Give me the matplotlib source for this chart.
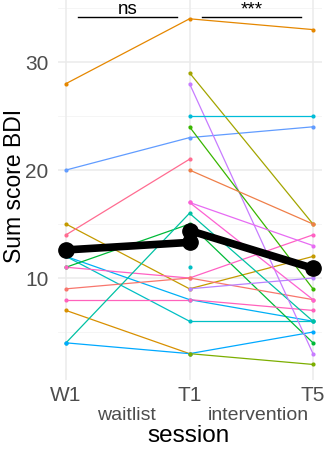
import numpy as np
import matplotlib
matplotlib.use("Agg")
import matplotlib.pyplot as plt

plt.rcParams['font.family'] = ['Liberation Sans', 'DejaVu Sans']

sessions = ["W1", "T1", "T5"]
nan = np.nan

# per-subject BDI sum scores at W1, T1, T5 (NaN = not measured)
subj_w1 = [28, 20, 15, 14, 12, 12, 11, 11, 9, 8, 7, 4, 4,
           nan, nan, nan, nan, nan, nan, nan, nan, nan, nan]
subj_t1 = [34, 23, 9, 21, 8, 6, 15, 10, 10, 8, 3, 16, 3,
           29, 28, 25, 24, 20, 17, 17, 11, 9, 3]
subj_t5 = [33, 24, 12, nan, 6, 6, 4, 14, 8, 7, nan, 6, 5,
           15, 3, 25, 9, 15, 13, 8, nan, 10, 2]
subj_colors = ["#E58700", "#619CFF", "#C49A00", "#FF6C91", "#00B0F6", "#00BFC4",
               "#00BA38", "#FF61C3", "#F8766D", "#FF62BC", "#D89000", "#00C1A3",
               "#00A9FF", "#A3A500", "#C77CFF", "#00BCD8", "#39B600", "#EF7F49",
               "#E76BF3", "#FD61D1", "#00BFC4", "#B983FF", "#7CAE00"]

# group means
mean_waitlist = [12.6, 13.3]      # W1, T1
mean_intervention = [14.4, 10.9]  # T1, T5

sig_labels = ["ns", "***"]

W, H = 327, 449
fig = plt.figure(figsize=(W / 100, H / 100), dpi=100)
ax = fig.add_axes([58 / W, (H - 380) / H, (322 - 58) / W, 380 / H])

xpos = np.arange(1, 4)
grid_c = "#EBEBEB"
for yv in [5, 15, 25, 35]:
    ax.axhline(yv, color="#F4F4F4", lw=0.6, zorder=0)
for yv in [10, 20, 30]:
    ax.axhline(yv, color=grid_c, lw=1.1, zorder=0)
for xv in xpos:
    ax.axvline(xv, color=grid_c, lw=1.1, zorder=0)

for w1, t1, t5, c in zip(subj_w1, subj_t1, subj_t5, subj_colors):
    vals = np.array([w1, t1, t5], dtype=float)
    if not np.isnan(w1) and not np.isnan(t1):
        ax.plot(xpos[:2], vals[:2], color=c, lw=0.9, zorder=2)
    if not np.isnan(t1) and not np.isnan(t5):
        ax.plot(xpos[1:], vals[1:], color=c, lw=0.9, zorder=2)
    m = ~np.isnan(vals)
    ax.scatter(xpos[m], vals[m], s=9, color=c, zorder=3, linewidths=0)

ax.plot(xpos[:2], mean_waitlist, color="black", lw=5.5, zorder=4,
        marker="o", ms=11, solid_capstyle="round")
ax.plot(xpos[1:], mean_intervention, color="black", lw=5.5, zorder=4,
        marker="o", ms=11, solid_capstyle="round")

# significance brackets
bar_y = 34.15
for (a, b), lab in zip([(1, 2), (2, 3)], sig_labels):
    ax.plot([a + 0.1, b - 0.1], [bar_y, bar_y], color="black", lw=1.0,
            zorder=5, clip_on=False)
    ax.text((a + b) / 2, bar_y + 0.25, lab, ha="center", va="baseline",
            fontsize=13.5, color="black", clip_on=False)

ax.set_xlim(0.935, 3.073)
ax.set_ylim(0.56, 35.74)
ax.set_xticks(xpos)
ax.set_xticklabels(sessions)
ax.set_yticks([10, 20, 30])
ax.tick_params(axis="both", length=0, labelsize=15, labelcolor="#4D4D4D")
ax.tick_params(axis="x", pad=4)
ax.tick_params(axis="y", pad=7)
for s in ax.spines.values():
    s.set_visible(False)

fig.text(15 / W, 1 - 186 / H, "Sum score BDI", rotation=90, ha="center",
         va="center", fontsize=16.5, color="black")
fig.text(126 / W, 1 - 416 / H, "waitlist", ha="center", va="center",
         fontsize=14, color="#4D4D4D")
fig.text(258 / W, 1 - 416 / H, "intervention", ha="center", va="center",
         fontsize=14, color="#4D4D4D")
fig.text(189 / W, 1 - 436 / H, "session", ha="center", va="center",
         fontsize=17.5, color="black")

fig.savefig("out.png", dpi=100)
